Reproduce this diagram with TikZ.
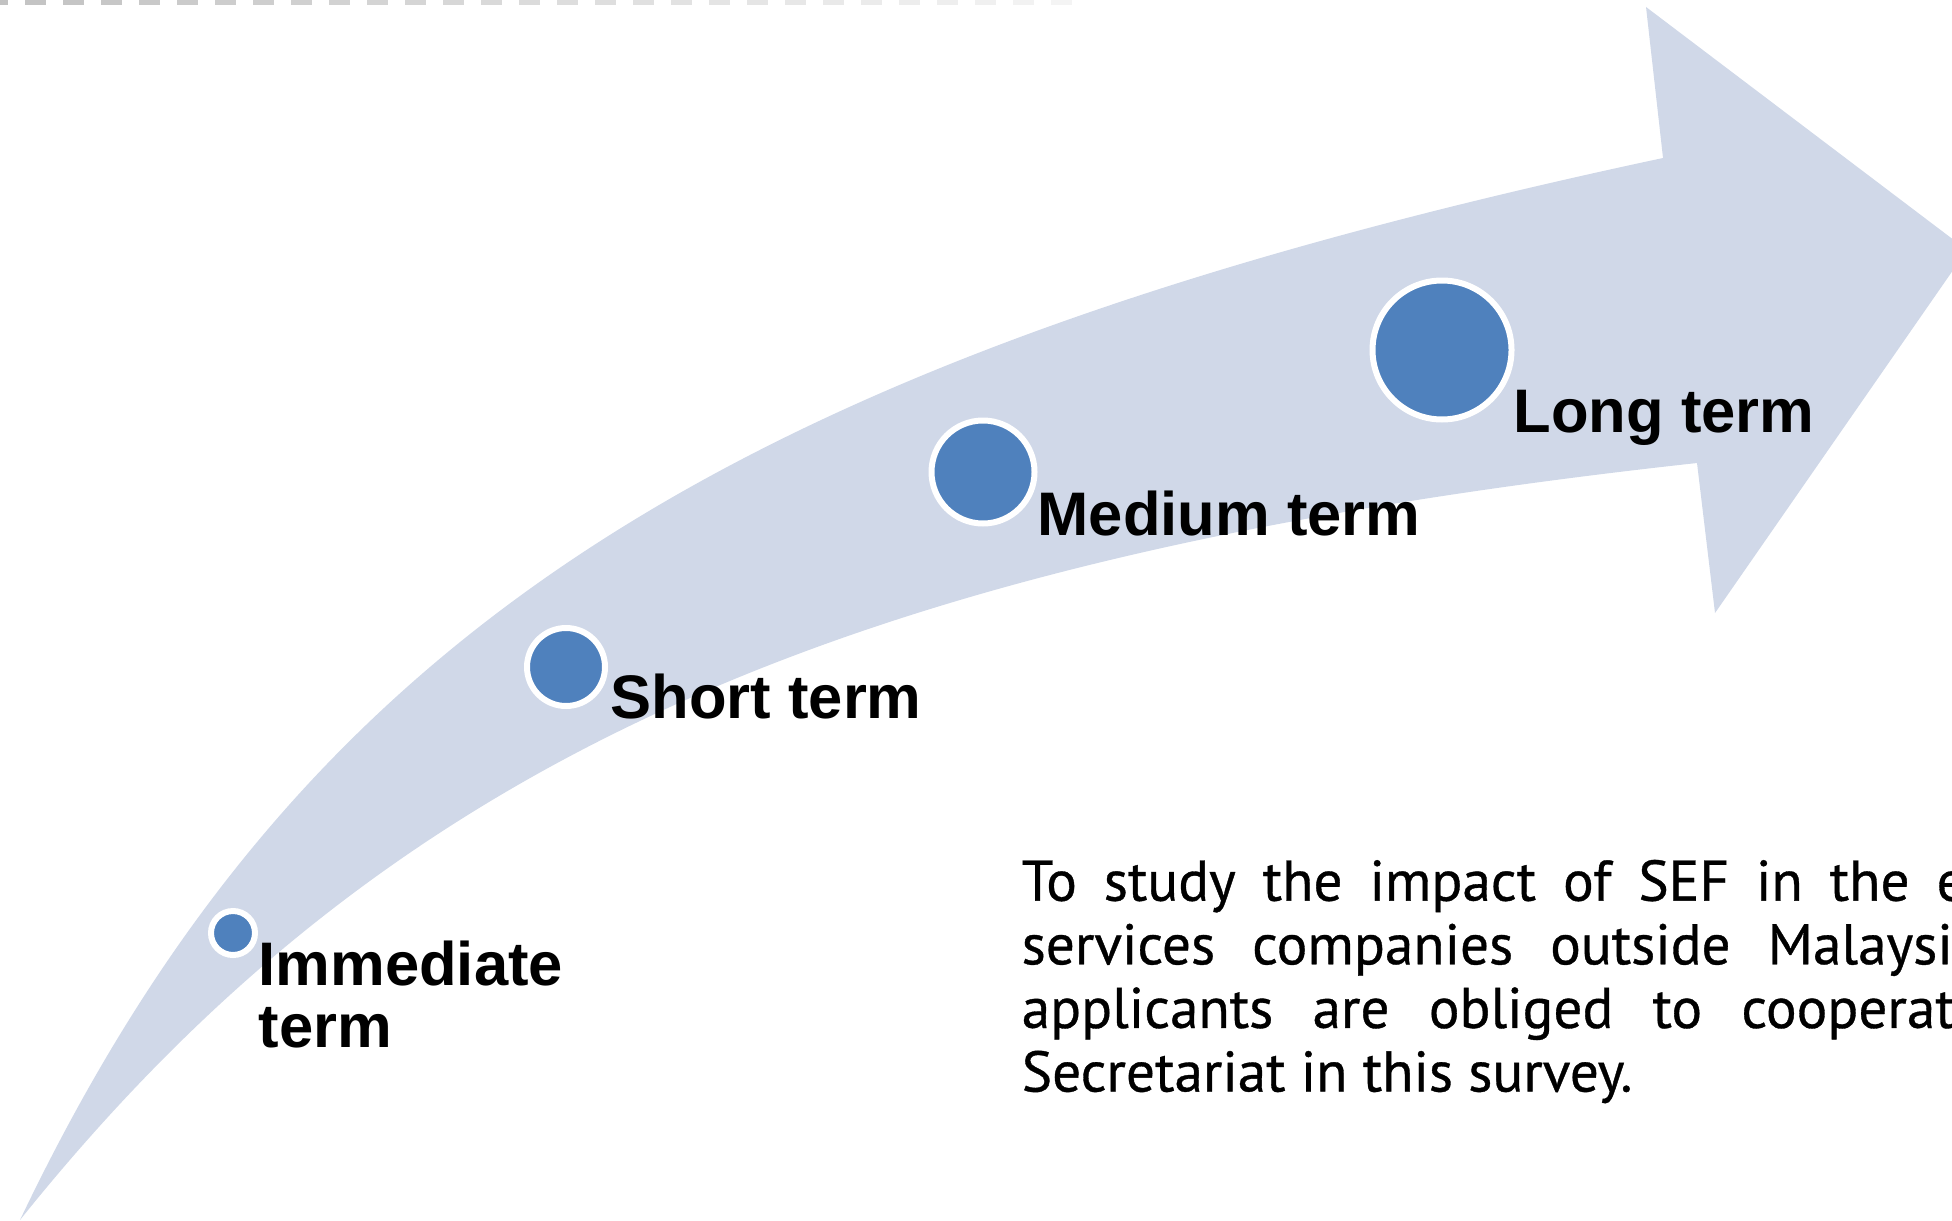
\documentclass[tikz,border=0pt]{standalone}
\usepackage{fontspec}
\setmainfont{Liberation Sans}
\newfontfamily\bodyfont[FakeBold=0.6]{PT Sans}
\usetikzlibrary{positioning}
\definecolor{band}{RGB}{208,216,232}
\definecolor{dot}{RGB}{79,129,189}

\begin{document}
\begin{tikzpicture}[
    stage/.style={circle, fill=dot, draw=white, line width=0.06cm, inner sep=0pt},
    term/.style={font=\fontsize{17.5}{17.6}\selectfont\bfseries, inner sep=0pt, anchor=base west, align=left},
    para/.style={font=\bodyfont\fontsize{16.3}{18.1}\selectfont, inner sep=0pt, anchor=base west, align=left}
]
    \useasboundingbox (0,0) rectangle (19.52,12.2);
    \clip (0,0) rectangle (19.52,12.2);

    % faded dashes along the top edge
    \foreach \k in {0,...,28}{
        \pgfmathsetmacro{\shade}{24-0.7*\k}
        \draw[black!\shade, line width=0.1cm] (-0.134+0.38*\k,12.2) -- ++(0.21,0);
    }

    % the curved arrow
    \fill[band] (0.2,0) .. controls (2.99,5.85) and (7.26,8.62) .. (16.63,10.62)
        -- (16.46,12.13) -- (19.67,9.70) -- (17.15,6.07) -- (16.97,7.57)
        .. controls (8.39,6.63) and (3.87,4.58) .. (0.2,0) -- cycle;

    % stages
    \node[stage, minimum size=0.44cm] (imm) at (2.33,2.87) {};
    \node[stage, minimum size=0.78cm] (short) at (5.66,5.53) {};
    \node[stage, minimum size=1.03cm] (medium) at (9.83,7.48) {};
    \node[stage, minimum size=1.39cm] (long) at (14.42,8.70) {};

    % base sits on the last line
    \node[term] (immlbl) at (2.58,1.73) {Immediate\\term};
    \node[term] (shortlbl) at (6.10,5.02) {Short term};
    \node[term] (mediumlbl) at (10.37,6.85) {Medium term};
    \node[term] (longlbl) at (15.13,7.88) {Long term};

    \node[para] (note) at (10.21,1.285) {%
        \makebox[9.44cm][s]{To study the impact of SEF in the e}\\
        \makebox[9.31cm][s]{services companies outside Malaysi}\\
        \makebox[9.33cm][s]{applicants are obliged to cooperat}\\
        Secretariat in this survey.};
\end{tikzpicture}
\end{document}
